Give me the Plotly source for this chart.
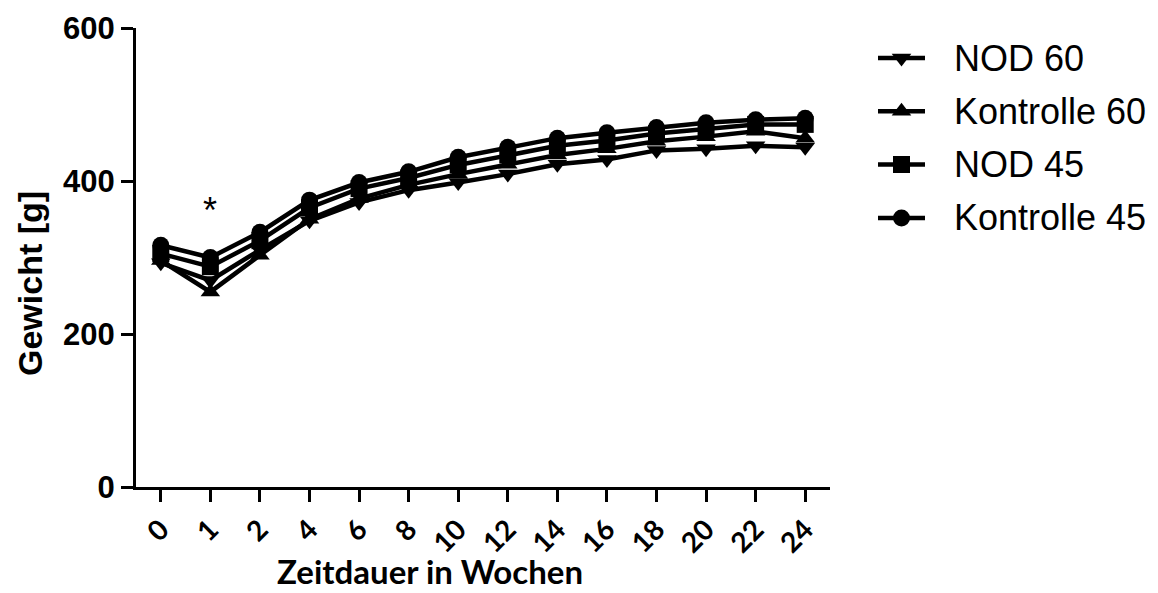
import plotly.graph_objects as go

# Body weight over time (weeks), four groups
weeks = ["0", "1", "2", "4", "6", "8", "10", "12", "14", "16", "18", "20", "22", "24"]

nod_60 = [293, 270, 310, 348, 372, 388, 398, 409, 422, 428, 440, 442, 446, 444]
kontrolle_60 = [296, 255, 303, 350, 377, 395, 409, 422, 434, 442, 452, 458, 465, 456]
nod_45 = [305, 288, 322, 365, 390, 404, 421, 434, 446, 453, 462, 468, 474, 474]
kontrolle_45 = [316, 300, 333, 375, 398, 412, 431, 444, 456, 463, 470, 476, 480, 482]

series = [
    ("NOD 60", nod_60, "triangle-down"),
    ("Kontrolle 60", kontrolle_60, "triangle-up"),
    ("NOD 45", nod_45, "square"),
    ("Kontrolle 45", kontrolle_45, "circle"),
]

W, H = 1158, 593
L, T, B = 136, 28, 106
PLOT_W = 694                      # width of the data area in px
PLOT_H = H - T - B
AREA_W = W - L                    # everything right of the left margin
main_dom = PLOT_W / AREA_W
LINE_W = 4.5
MARK = 17


def px_to_paper(px, py):
    """Convert page pixel coordinates to paper coordinates."""
    return (px - L) / AREA_W, (H - B - py) / PLOT_H


x_idx = list(range(len(weeks)))

fig = go.Figure()
for name, vals, sym in series:
    fig.add_trace(go.Scatter(
        x=x_idx, y=vals, name=name, mode="lines+markers", showlegend=False,
        line=dict(color="black", width=LINE_W),
        marker=dict(symbol=sym, size=MARK, color="black"),
        xaxis="x", yaxis="y",
    ))

# legend drawn on a pixel-scaled overlay axis to the right of the plot
leg_dom0 = 0.70
leg_x0 = L + leg_dom0 * AREA_W
for i, (name, vals, sym) in enumerate(series):
    yc = 58 + 53.3 * i
    fig.add_trace(go.Scatter(
        x=[878, 925], y=[yc, yc], mode="lines", showlegend=False, hoverinfo="skip",
        line=dict(color="black", width=LINE_W), xaxis="x2", yaxis="y2",
    ))
    fig.add_trace(go.Scatter(
        x=[901.5], y=[yc], mode="markers", showlegend=False, hoverinfo="skip",
        marker=dict(symbol=sym, size=MARK, color="black"), xaxis="x2", yaxis="y2",
    ))
    fig.add_annotation(x=952, y=yc, xref="x2", yref="y2", text=name,
                       showarrow=False, xanchor="left", yanchor="middle",
                       font=dict(family="Liberation Sans", size=36, color="black"))

# significance mark at week 1
fig.add_annotation(x=1, y=362, xref="x", yref="y", text="*", showarrow=False,
                   font=dict(family="Liberation Sans", size=36, color="black"))

# axis titles
tx, ty = px_to_paper(430, 593)
fig.add_annotation(x=tx, y=ty, xref="paper", yref="paper", text="<b>Zeitdauer in Wochen</b>",
                   showarrow=False, xanchor="center", yanchor="bottom",
                   font=dict(family="Lato", size=33, color="black"))
gx, gy = px_to_paper(30, 284)
fig.add_annotation(x=gx, y=gy, xref="paper", yref="paper",
                   text="<b>Gewicht [g]</b>", textangle=-90, showarrow=False,
                   xanchor="center", yanchor="middle",
                   font=dict(family="Liberation Sans", size=34, color="black"))

fig.update_layout(
    width=W, height=H,
    margin=dict(l=L, r=0, t=T, b=B),
    plot_bgcolor="white", paper_bgcolor="white",
    showlegend=False,
    xaxis=dict(
        domain=[0, main_dom], anchor="y",
        range=[-0.5, 13.5], tickmode="array", tickvals=x_idx, ticktext=weeks,
        tickangle=-45, ticks="outside", ticklen=12, tickwidth=3, tickcolor="black",
        showline=True, linewidth=3, linecolor="black", showgrid=False, zeroline=False,
        tickfont=dict(family="Lato", size=28, color="black", weight="bold"),
    ),
    yaxis=dict(
        anchor="x",
        range=[0, 600], tickvals=[0, 200, 400, 600], ticks="outside", ticklen=12,
        tickwidth=3, tickcolor="black",
        showline=True, linewidth=3, linecolor="black", showgrid=False, zeroline=False,
        tickfont=dict(family="Liberation Sans", size=31, color="black", weight="bold"),
    ),
    xaxis2=dict(domain=[leg_dom0, 1], range=[leg_x0, W], visible=False, anchor="y2"),
    yaxis2=dict(domain=[0, 1], range=[H - B, T], visible=False, anchor="x2"),
)

fig.write_html("out.html")
